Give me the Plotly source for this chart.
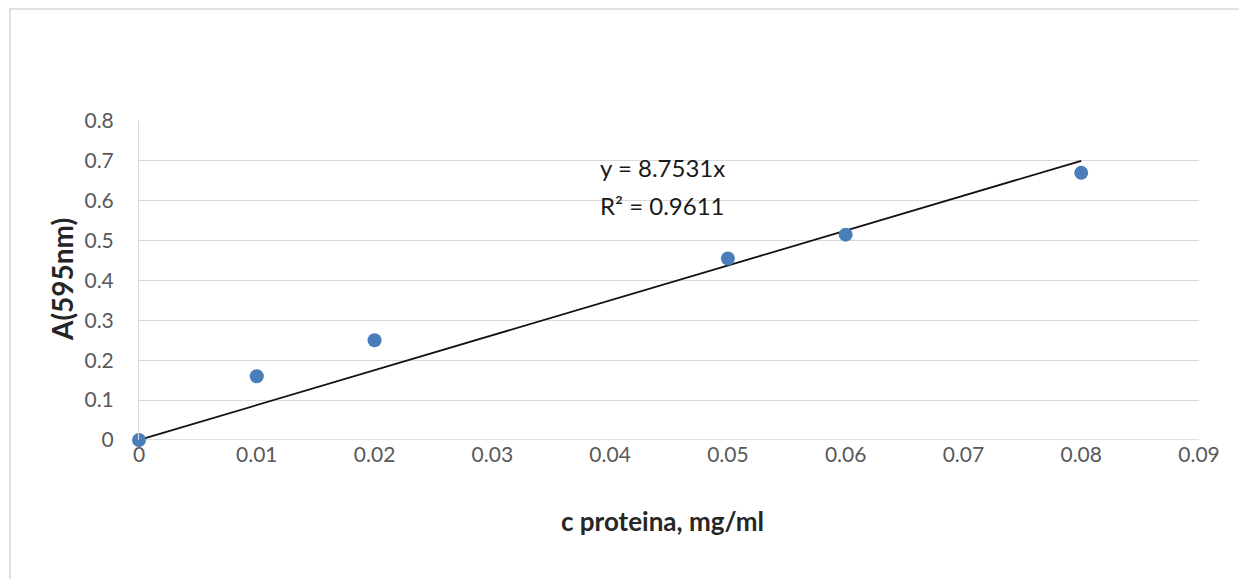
import plotly.graph_objects as go

# Data
conc = [0, 0.01, 0.02, 0.05, 0.06, 0.08]
absorb = [0, 0.16, 0.25, 0.455, 0.515, 0.67]
slope = 8.7531
r2 = 0.9611
fit_x = [0, 0.08]
fit_y = [slope * v for v in fit_x]
x_ticks = [0, 0.01, 0.02, 0.03, 0.04, 0.05, 0.06, 0.07, 0.08, 0.09]
y_ticks = [0, 0.1, 0.2, 0.3, 0.4, 0.5, 0.6, 0.7, 0.8]

FONT = "Lato"
GRAY = "#595959"

fig = go.Figure()
fig.add_trace(go.Scatter(x=fit_x, y=fit_y, mode="lines", cliponaxis=False,
                         line=dict(color="#111111", width=1.8), hoverinfo="skip"))
fig.add_trace(go.Scatter(x=conc, y=absorb, mode="markers", cliponaxis=False,
                         marker=dict(color="#4a7ebb", size=14)))

fig.update_layout(
    width=1239, height=579,
    margin=dict(l=139, r=40, t=121, b=139),
    paper_bgcolor="white", plot_bgcolor="white",
    showlegend=False,
    font=dict(family=FONT, size=21, color=GRAY),
    xaxis=dict(range=[0, 0.09], tickvals=x_ticks,
               ticktext=[f"{v:g}" for v in x_ticks],
               showgrid=False, zeroline=False, showline=False,
               ticks="", ticklabelstandoff=0,
               tickfont=dict(family=FONT, size=21, color=GRAY)),
    yaxis=dict(range=[0, 0.8], tickvals=y_ticks,
               ticktext=[f"{v:g}" for v in y_ticks],
               showgrid=True, gridcolor="#d9d9d9", gridwidth=1,
               zeroline=False, showline=True, linecolor="#d9d9d9",
               ticks="", ticklabelstandoff=20,
               tickfont=dict(family=FONT, size=21, color=GRAY)),
)

# bottom axis line (0 gridline)
fig.add_shape(type="line", xref="paper", yref="y", x0=0, x1=1, y0=0, y1=0,
              line=dict(color="#bfbfbf", width=1), layer="below")

# chart border
fig.add_shape(type="rect", xref="paper", yref="paper",
              x0=-0.1217, x1=1.2, y0=-0.6, y1=1.351,
              line=dict(color="#d9d9d9", width=1.5), layer="below")

fig.add_annotation(x=0.03897, y=0.6825, xref="x", yref="y", xanchor="left",
                   text=f"y = {slope}x", showarrow=False,
                   font=dict(family=FONT, size=24, color="#1a1a1a"))
fig.add_annotation(x=0.03897, y=0.5875, xref="x", yref="y", xanchor="left",
                   text=f"R² = {r2}", showarrow=False,
                   font=dict(family=FONT, size=24, color="#1a1a1a"))

fig.add_annotation(x=-0.0726, y=0.5016, xref="paper", yref="paper",
                   xanchor="center", yanchor="middle",
                   text="<b>A(595nm)</b>", textangle=-90, showarrow=False,
                   font=dict(family=FONT, size=28, color="#262626"))
fig.add_annotation(x=0.4943, y=-0.254, xref="paper", yref="paper",
                   xanchor="center", yanchor="middle",
                   text="<b>c proteina, mg/ml</b>", showarrow=False,
                   font=dict(family=FONT, size=26, color="#262626"))

fig.write_html("out.html",
               config={"displayModeBar": False},
               post_script="document.body.style.margin='0';"
                           "document.body.style.overflow='hidden';")
